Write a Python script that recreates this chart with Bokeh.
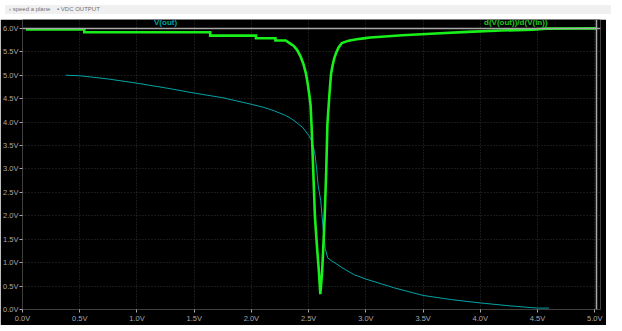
from bokeh.plotting import figure
from bokeh.models import (Range1d, FixedTicker, PrintfTickFormatter,
                          Span, Label, Div)
from bokeh.layouts import column
from bokeh.embed import file_html
from bokeh.resources import INLINE

# ---- data ----
vin_out = [0.38, 0.5, 0.75, 1.0, 1.25, 1.5, 1.75, 2.0, 2.1, 2.2, 2.3, 2.35, 2.4,
           2.45, 2.5, 2.53, 2.555, 2.57, 2.583, 2.606, 2.625, 2.645, 2.667, 2.7,
           2.74, 2.8, 2.9, 3.0, 3.25, 3.5, 3.75, 4.0, 4.25, 4.5, 4.6]
vout = [5.0, 4.99, 4.92, 4.83, 4.73, 4.62, 4.52, 4.38, 4.32, 4.24, 4.14, 4.07, 3.98,
        3.88, 3.72, 3.59, 3.32, 3.0, 2.65, 2.32, 1.77, 1.30, 1.10, 1.04, 0.98,
        0.88, 0.74, 0.65, 0.46, 0.30, 0.21, 0.14, 0.08, 0.03, 0.03]

vin_d = [0.03, 0.54, 0.54, 1.64, 1.64, 2.04, 2.04, 2.21, 2.21, 2.30, 2.33, 2.37,
         2.40, 2.429, 2.455, 2.476, 2.491, 2.505, 2.517, 2.526, 2.54, 2.555, 2.574,
         2.589, 2.602, 2.617, 2.625, 2.64, 2.654, 2.664, 2.677, 2.687, 2.696, 2.71,
         2.725, 2.74, 2.76, 2.79, 2.85, 2.92, 2.98, 3.04, 3.32, 3.61, 3.89, 4.18,
         4.46, 4.57, 5.01]
dvdv = [-0.08, -0.08, -0.29, -0.29, -0.54, -0.54, -0.74, -0.74, -0.91, -0.91,
        -1.09, -1.32, -1.63, -2.10, -2.69, -3.38, -4.11, -4.95, -5.77, -7.43,
        -10.62, -14.17, -16.53, -18.19, -19.97, -18.43, -17.01, -14.17, -10.62,
        -7.2, -5.53, -4.35, -3.40, -2.75, -2.22, -1.85, -1.45, -1.10, -0.92, -0.82,
        -0.75, -0.68, -0.52, -0.38, -0.26, -0.16, -0.09, -0.02, 0.0]

x_ticks = [0.0, 0.5, 1.0, 1.5, 2.0, 2.5, 3.0, 3.5, 4.0, 4.5, 5.0]
y_ticks = [0.0, 0.5, 1.0, 1.5, 2.0, 2.5, 3.0, 3.5, 4.0, 4.5, 5.0, 5.5, 6.0]

trace_names = ["V(out)", "d(V(out))/d(V(in))"]
toolbar_text = "\u2039 speed a plane &nbsp;&nbsp; \u25aa VDC OUTPUT"

# ---- styling ----
BG = "#000000"
AX = "#a8a8a8"
GRID = "#333333"
CYAN = "#00a3a6"
GREEN = "#19f019"
FONT = "Liberation Sans"

y_top = 6.19
p = figure(width=606, height=306, output_backend="svg", toolbar_location=None,
           x_range=Range1d(0, 5.05), y_range=Range1d(0, y_top),
           background_fill_color=BG, border_fill_color=BG,
           min_border_left=22, min_border_right=6, min_border_top=0,
           min_border_bottom=13, outline_line_color=None)

# derivative range: 0 sits on the 6.0V line, min ~ -20 near the 0.3V level
scale = 20.0 / 5.68
p.extra_y_ranges = {"d": Range1d(-6.0 * scale, (y_top - 6.0) * scale)}

for ax in (p.xaxis[0], p.yaxis[0]):
    ax.axis_line_color = None
    ax.major_tick_line_color = AX
    ax.minor_tick_line_color = None
    ax.major_tick_in = 0
    ax.major_tick_out = 3
    ax.major_label_text_color = AX
    ax.major_label_text_font = FONT
    ax.major_label_text_font_size = "7.5px"
    ax.major_label_standoff = 1
    ax.formatter = PrintfTickFormatter(format="%.1fV")

p.xaxis[0].ticker = FixedTicker(ticks=x_ticks)
p.yaxis[0].ticker = FixedTicker(ticks=y_ticks)

p.xgrid.ticker = FixedTicker(ticks=x_ticks)
p.ygrid.ticker = FixedTicker(ticks=y_ticks[:-1])
for g in (p.xgrid[0], p.ygrid[0]):
    g.grid_line_color = GRID
    g.grid_line_dash = "1 2"
    g.grid_line_width = 1

# frame lines (top at 6.0V, right border)
p.add_layout(Span(location=6.0, dimension="width", line_color=AX, line_width=1.5))
p.add_layout(Span(location=5.015, dimension="height", line_color=AX, line_width=1.5))

p.line(vin_out, vout, line_color=CYAN, line_width=1)
p.line(vin_d, dvdv, y_range_name="d", line_color=GREEN, line_width=2.6,
       line_join="miter")

p.add_layout(Label(x=1.25, y=6.02, text=trace_names[0], text_color=CYAN,
                   text_font=FONT, text_font_size="8px", text_font_style="bold",
                   text_align="center", text_baseline="bottom"))
p.add_layout(Label(x=4.31, y=6.02, text=trace_names[1], text_color="#22c822",
                   text_font=FONT, text_font_size="8px", text_font_style="bold",
                   text_align="center", text_baseline="bottom"))

strip = Div(text=toolbar_text, width=606, height=9,
            styles={"background-color": "#f0f0f0", "color": "#707070",
                    "font-size": "6px", "line-height": "9px",
                    "font-family": "Liberation Sans", "padding-left": "4px",
                    "box-sizing": "border-box", "overflow": "hidden"})

layout = column(strip, p, spacing=0)

open("out.html", "w").write(file_html(layout, INLINE))
